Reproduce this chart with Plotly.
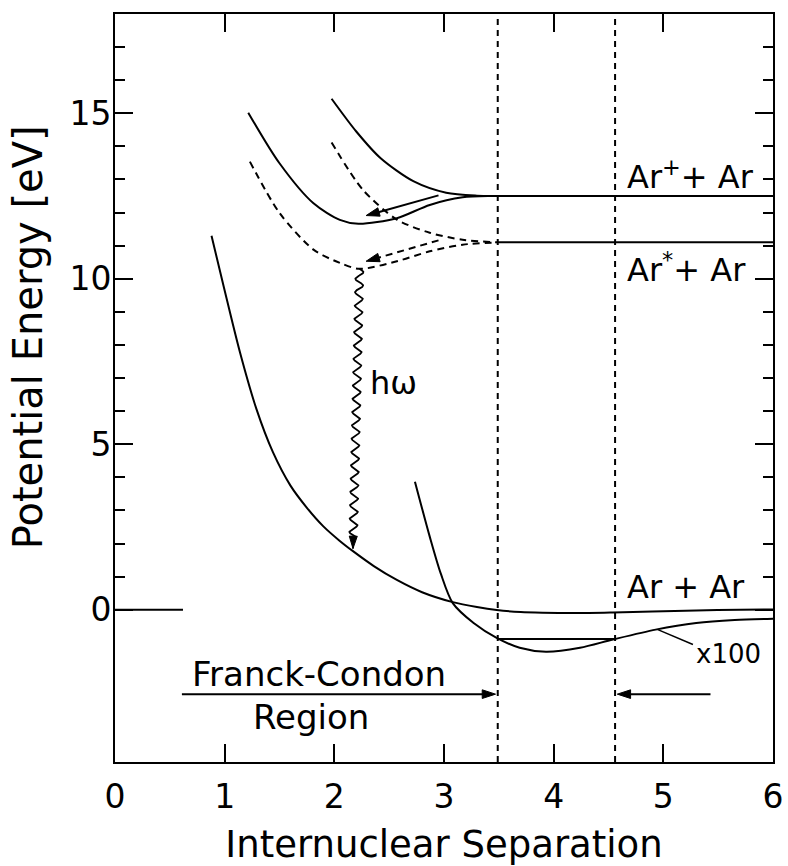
import numpy as np
import plotly.graph_objects as go

# ---------------- data ----------------
# ground state Ar + Ar
ground_x = [0.88, 0.99, 1.14, 1.29, 1.44, 1.60, 1.75, 1.90, 2.05, 2.17, 2.36, 2.57, 2.80, 3.08, 3.30, 3.48, 3.70, 3.90, 4.20, 4.54, 4.90, 5.30, 5.70, 6.00]
ground_y = [11.30, 9.78, 7.77, 6.06, 4.76, 3.75, 3.08, 2.52, 2.08, 1.77, 1.32, 0.90, 0.53, 0.23, 0.08, -0.01, -0.07, -0.09, -0.10, -0.08, -0.05, -0.02, 0.00, 0.01]
# ground state well magnified x100
x100_x = [2.735, 2.87, 2.97, 3.08, 3.27, 3.48, 3.69, 3.93, 4.24, 4.54, 4.93, 5.30, 5.65, 6.00]
x100_y = [3.87, 2.21, 1.10, 0.20, -0.40, -0.85, -1.15, -1.27, -1.15, -0.90, -0.60, -0.40, -0.31, -0.27]
# Ar+ + Ar : repulsive and bound (solid)
ion_rep_x = [1.975, 2.20, 2.42, 2.72, 3.02, 3.30, 3.50, 6.00]
ion_rep_y = [15.44, 14.45, 13.65, 12.95, 12.60, 12.51, 12.50, 12.50]
ion_bound_x = [1.215, 1.50, 1.81, 2.05, 2.22, 2.57, 2.87, 3.17, 3.40]
ion_bound_y = [15.02, 13.49, 12.28, 11.78, 11.66, 11.83, 12.23, 12.46, 12.50]
# Ar* + Ar : repulsive and bound (dashed) + asymptote
exc_rep_x = [1.975, 2.26, 2.57, 2.87, 3.17, 3.49]
exc_rep_y = [14.12, 12.69, 11.79, 11.39, 11.18, 11.10]
exc_bound_x = [1.23, 1.50, 1.81, 2.05, 2.23, 2.57, 2.87, 3.17, 3.49]
exc_bound_y = [13.54, 11.99, 10.88, 10.48, 10.30, 10.53, 10.83, 11.03, 11.10]
exc_asym_x = [3.49, 6.00]
exc_asym_y = [11.10, 11.10]
# Franck-Condon boundaries, vibrational level, zero reference
fc_bounds = [3.49, 4.56]
vib_level_x = [3.49, 4.55]
vib_level_y = [-0.88, -0.88]
zero_ref_x = [0.0, 0.62]
zero_ref_y = [0.0, 0.0]
# photon emission (start, end)
photon_x = [2.23, 2.17]
photon_y = [10.30, 1.85]
# arrows [tail_x, tail_y, head_x, head_y]
arrow_ion = [2.95, 12.52, 2.29, 11.91]
arrow_exc = [2.95, 11.16, 2.29, 10.53]
arrow_fc_left = [0.61, -2.55, 3.47, -2.55]
arrow_fc_right = [5.43, -2.55, 4.58, -2.55]
x100_leader_x = [4.95, 5.27]
x100_leader_y = [-0.60, -1.05]

x_ticks = [0, 1, 2, 3, 4, 5, 6]
y_major = [0, 5, 10, 15]
y_minor = [1, 2, 3, 4, 6, 7, 8, 9, 11, 12, 13, 14, 16, 17]

FONT = "DejaVu Sans"
BLK = "black"

fig = go.Figure()

def line(x, y, dash="solid", width=2, shape="spline"):
    fig.add_trace(go.Scatter(x=x, y=y, mode="lines",
                             line=dict(color=BLK, width=width, dash=dash, shape=shape, smoothing=0.8),
                             showlegend=False, hoverinfo="skip"))

def arrow(a, width=2, dash="solid", head=14):
    fig.add_trace(go.Scatter(x=[a[0], a[2]], y=[a[1], a[3]], mode="lines+markers",
                             line=dict(color=BLK, width=width, dash=dash),
                             marker=dict(symbol=["circle", "arrow"], size=[0, head], color=BLK, opacity=1,
                                         angleref="previous", line=dict(width=1, color=BLK)),
                             showlegend=False, hoverinfo="skip"))

line(ground_x, ground_y)
line(x100_x, x100_y)
line(ion_rep_x, ion_rep_y)
line(ion_bound_x, ion_bound_y)
line(exc_rep_x, exc_rep_y, dash="7px,5px")
line(exc_bound_x, exc_bound_y, dash="7px,5px")
line(exc_asym_x, exc_asym_y, shape="linear")
line(vib_level_x, vib_level_y, shape="linear")
line(zero_ref_x, zero_ref_y, shape="linear")
line(x100_leader_x, x100_leader_y, shape="linear", width=1.5)
for xb in fc_bounds:
    line([xb, xb], [-4.6, 18.0], dash="6px,5px", shape="linear")

arrow(arrow_ion)
arrow(arrow_exc, dash="7px,5px")
arrow(arrow_fc_left)
arrow(arrow_fc_right)

# wavy photon line
n_per = 21
t = np.linspace(0, 1, 1200)
t_end = 0.96
tt = t * t_end
wx = photon_x[0] + (photon_x[1] - photon_x[0]) * tt + 0.036 * np.sin(2 * np.pi * n_per * tt)
wy = photon_y[0] + (photon_y[1] - photon_y[0]) * tt
line(list(wx), list(wy), shape="linear", width=1.8)
arrow([photon_x[0] + (photon_x[1] - photon_x[0]) * t_end, photon_y[0] + (photon_y[1] - photon_y[0]) * t_end,
       photon_x[1], photon_y[1]], width=1.8, head=13)

annotations = []

def text(x, y, s, size=32, xanchor="center", yanchor="middle"):
    annotations.append(dict(x=x, y=y, xref="x", yref="y", text=s, showarrow=False,
                            xanchor=xanchor, yanchor=yanchor,
                            font=dict(family=FONT, size=size, color=BLK)))

text(4.65, 13.14, "Ar<sup>+</sup>+ Ar", xanchor="left")
text(4.65, 10.33, "Ar<sup>*</sup>+ Ar", xanchor="left")
text(4.65, 0.68, "Ar + Ar", xanchor="left")
text(2.31, 6.85, "hω", xanchor="left")
text(1.86, -1.94, "Franck-Condon", size=34)
text(1.785, -3.23, "Region", size=34)
text(5.59, -1.34, "x100", size=26)

# axis titles
annotations.append(dict(x=-0.132, y=0.568, xref="paper", yref="paper", text="Potential Energy [eV]",
                        textangle=-90, showarrow=False, xanchor="center", yanchor="middle",
                        font=dict(family=FONT, size=40, color=BLK)))

fig.update_layout(
    width=788, height=866,
    margin=dict(l=115, r=15, t=14, b=104, autoexpand=False),
    paper_bgcolor="white", plot_bgcolor="white",
    font=dict(family=FONT, size=33, color=BLK),
    annotations=annotations,
    showlegend=False,
)
fig.update_xaxes(range=[0, 6], tickmode="array", tickvals=x_ticks, ticktext=[str(v) for v in x_ticks],
                 ticks="inside", ticklen=18, tickwidth=2, tickcolor=BLK,
                 showline=True, linewidth=2, linecolor=BLK, mirror="ticks", automargin=False,
                 showgrid=False, zeroline=False, ticklabelstandoff=4,
                 title=dict(text="Internuclear Separation", font=dict(family=FONT, size=37, color=BLK), standoff=20))
fig.update_yaxes(range=[-4.6, 18.0], tickmode="array", tickvals=y_major, ticktext=[str(v) for v in y_major],
                 ticks="inside", ticklen=18, tickwidth=2, tickcolor=BLK,
                 minor=dict(tickmode="array", tickvals=y_minor, ticks="inside", ticklen=10, tickwidth=2, tickcolor=BLK),
                 showline=True, linewidth=2, linecolor=BLK, mirror="ticks", automargin=False,
                 showgrid=False, zeroline=False, ticklabelstandoff=-5)

fig.write_html("out.html")
